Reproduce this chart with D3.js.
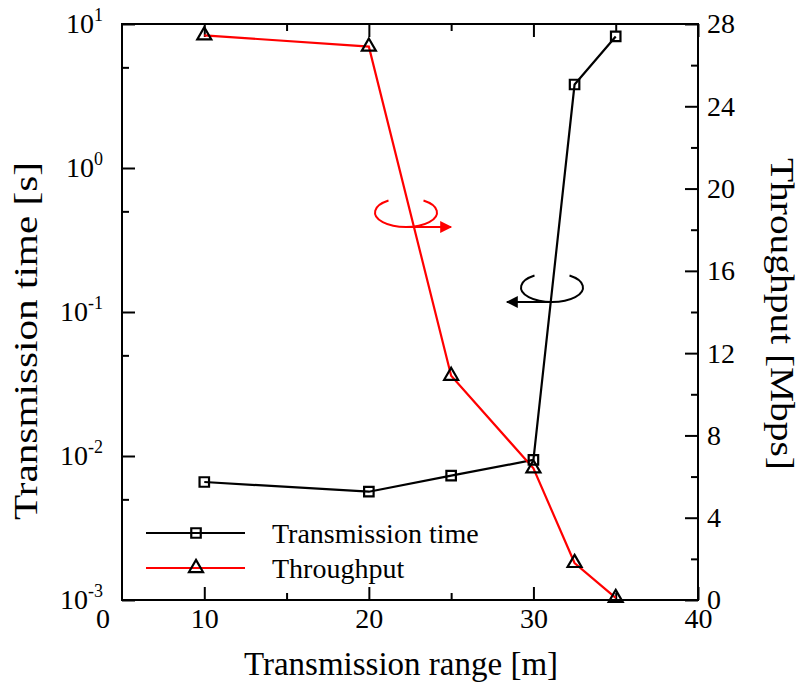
<!DOCTYPE html>
<html>
<head>
<meta charset="utf-8">
<script src="https://cdn.jsdelivr.net/npm/d3@7.9.0/dist/d3.min.js"></script>
<style>
  body { margin: 0; background: #fff; }
  svg, svg text { font-family: "Liberation Serif", "Times New Roman", Times, serif; fill: #000; }
</style>
</head>
<body>
<div id="chart"></div>
<script>
// data
const ranges = [10, 20, 25, 30, 32.5, 35];
const transTime = [0.0066, 0.00565, 0.0073, 0.0094, 3.8, 8.2];
const throughput = [27.45, 26.9, 10.9, 6.4, 1.8, 0.1];

const xTicks = [10, 20, 30, 40];
const xMinor = [15, 25, 35];
const leftTicks = [1e-3, 1e-2, 1e-1, 1, 10];
const leftExp = ['-3', '-2', '-1', '0', '1'];
const leftMinor = [0.005, 0.05, 0.5, 5];
const rightTicks = [0, 4, 8, 12, 16, 20, 24, 28];
const rightMinor = [2, 6, 10, 14, 18, 22, 26];

const width = 799;
const height = 688;
const area = { left: 122, right: 698, top: 24, bottom: 600 };
const serif = '"Liberation Serif", "Times New Roman", Times, serif';

const svg = d3.select('#chart')
  .append('svg')
  .attr('width', width)
  .attr('height', height)
  .attr('font-family', serif);

const x = d3.scaleLinear().domain([5, 40]).range([area.left, area.right]);
const yL = d3.scaleLog().domain([1e-3, 10]).range([area.bottom, area.top]);
const yR = d3.scaleLinear().domain([0, 28]).range([area.bottom, area.top]);

function styleAxis(g) {
  g.attr('font-family', serif).attr('font-size', 28);
  g.select('.domain').remove();
  g.selectAll('line').attr('stroke', '#000').attr('stroke-width', 2);
  g.selectAll('text').attr('fill', '#000');
}

// bottom axis
svg.append('g')
  .attr('transform', `translate(0,${area.bottom})`)
  .call(d3.axisBottom(x).tickValues(xTicks).tickSizeInner(-13).tickSizeOuter(0).tickPadding(8))
  .call(styleAxis);
svg.append('g')
  .attr('transform', `translate(0,${area.bottom})`)
  .call(d3.axisBottom(x).tickValues(xMinor).tickSizeInner(-7).tickSizeOuter(0).tickFormat(''))
  .call(styleAxis);
// stray "0" label at the lower left corner
svg.append('text')
  .attr('x', x(5) - 19)
  .attr('y', area.bottom + 8)
  .attr('dy', '0.71em')
  .attr('text-anchor', 'middle')
  .attr('font-size', 28)
  .text('0');

// top axis (ticks only)
svg.append('g')
  .attr('transform', `translate(0,${area.top})`)
  .call(d3.axisTop(x).tickValues(xTicks).tickSizeInner(-13).tickSizeOuter(0).tickFormat(''))
  .call(styleAxis);
svg.append('g')
  .attr('transform', `translate(0,${area.top})`)
  .call(d3.axisTop(x).tickValues(xMinor).tickSizeInner(-7).tickSizeOuter(0).tickFormat(''))
  .call(styleAxis);

// left log axis
const leftAxis = svg.append('g')
  .attr('transform', `translate(${area.left},0)`)
  .call(d3.axisLeft(yL).tickValues(leftTicks).tickSizeInner(-13).tickSizeOuter(0).tickPadding(10).tickFormat(''))
  .call(styleAxis);
leftAxis.selectAll('.tick text')
  .attr('x', -19)
  .attr('dy', '0.32em')
  .each(function (d, i) {
    const t = d3.select(this);
    t.text('10');
    t.append('tspan').attr('dy', -12).attr('font-size', 18).text(leftExp[i]);
  });
svg.append('g')
  .attr('transform', `translate(${area.left},0)`)
  .call(d3.axisLeft(yL).tickValues(leftMinor).tickSizeInner(-7).tickSizeOuter(0).tickFormat(''))
  .call(styleAxis);

// right axis
svg.append('g')
  .attr('transform', `translate(${area.right},0)`)
  .call(d3.axisRight(yR).tickValues(rightTicks).tickSizeInner(-13).tickSizeOuter(0).tickPadding(9))
  .call(styleAxis);
svg.append('g')
  .attr('transform', `translate(${area.right},0)`)
  .call(d3.axisRight(yR).tickValues(rightMinor).tickSizeInner(-7).tickSizeOuter(0).tickFormat(''))
  .call(styleAxis);

// frame
svg.append('rect')
  .attr('x', area.left).attr('y', area.top)
  .attr('width', area.right - area.left).attr('height', area.bottom - area.top)
  .attr('fill', 'none').attr('stroke', '#000').attr('stroke-width', 2);

// axis titles
svg.append('text')
  .attr('x', 401).attr('y', 675)
  .attr('text-anchor', 'middle')
  .attr('font-size', 33)
  .text('Transmission range [m]');
svg.append('text')
  .attr('transform', 'translate(37,341) rotate(-90)')
  .attr('text-anchor', 'middle')
  .attr('font-size', 33)
  .attr('textLength', 358)
  .attr('lengthAdjust', 'spacingAndGlyphs')
  .text('Transmission time [s]');
svg.append('text')
  .attr('transform', 'translate(771,314) rotate(90)')
  .attr('text-anchor', 'middle')
  .attr('font-size', 33)
  .attr('textLength', 312)
  .attr('lengthAdjust', 'spacingAndGlyphs')
  .text('Throughput [Mbps]');

// series
const timeData = ranges.map((r, i) => ({ r, v: transTime[i] }));
const thrData = ranges.map((r, i) => ({ r, v: throughput[i] }));

const square = d3.symbol().type(d3.symbolSquare).size(90);
const triangle = d3.symbol().type(d3.symbolTriangle).size(85);

svg.append('path')
  .datum(timeData)
  .attr('fill', 'none')
  .attr('stroke', '#000')
  .attr('stroke-width', 2.2)
  .attr('d', d3.line().x(d => x(d.r)).y(d => yL(d.v)));

svg.append('path')
  .datum(thrData)
  .attr('fill', 'none')
  .attr('stroke', '#ff0000')
  .attr('stroke-width', 2.2)
  .attr('d', d3.line().x(d => x(d.r)).y(d => yR(d.v)));

svg.append('g').selectAll('path')
  .data(timeData)
  .join('path')
  .attr('transform', d => `translate(${x(d.r)},${yL(d.v)})`)
  .attr('d', square)
  .attr('fill', 'none')
  .attr('stroke', '#000')
  .attr('stroke-width', 2.2);

svg.append('g').selectAll('path')
  .data(thrData)
  .join('path')
  .attr('transform', d => `translate(${x(d.r)},${yR(d.v)})`)
  .attr('d', triangle)
  .attr('fill', 'none')
  .attr('stroke', '#000')
  .attr('stroke-width', 2.2);

// rotating arrows pointing to each axis
svg.append('defs').selectAll('marker')
  .data([['head-red', '#ff0000'], ['head-black', '#000']])
  .join('marker')
  .attr('id', d => d[0])
  .attr('viewBox', '0 0 10 10')
  .attr('refX', 9).attr('refY', 5)
  .attr('markerWidth', 7).attr('markerHeight', 6)
  .attr('markerUnits', 'strokeWidth')
  .attr('orient', 'auto')
  .append('path')
  .attr('d', 'M0,0 L10,5 L0,10 Z')
  .attr('fill', d => d[1]);

function loopArrow(cx, cy, color, dir, head) {
  const rx = 31, ry = 14.5, gap = 17.5;
  const gy = cy - ry * Math.sqrt(1 - (gap / rx) ** 2);
  svg.append('path')
    .attr('d', `M${cx - gap},${gy} A${rx},${ry} 0 1 0 ${cx + gap},${gy}`)
    .attr('fill', 'none')
    .attr('stroke', color)
    .attr('stroke-width', 2);
  svg.append('line')
    .attr('x1', cx).attr('y1', cy + ry)
    .attr('x2', cx + dir * 45).attr('y2', cy + ry)
    .attr('stroke', color)
    .attr('stroke-width', 2)
    .attr('marker-end', `url(#${head})`);
}
loopArrow(406, 212.5, '#ff0000', 1, 'head-red');
loopArrow(552, 287.5, '#000', -1, 'head-black');

// legend
const legend = svg.append('g');
const legendItems = [
  { label: 'Transmission time', color: '#000', sym: square, y: 533 },
  { label: 'Throughput', color: '#ff0000', sym: triangle, y: 568 },
];
legendItems.forEach(item => {
  legend.append('line')
    .attr('x1', 146).attr('x2', 245)
    .attr('y1', item.y).attr('y2', item.y)
    .attr('stroke', item.color).attr('stroke-width', 2.2);
  legend.append('path')
    .attr('transform', `translate(196,${item.y})`)
    .attr('d', item.sym)
    .attr('fill', 'none').attr('stroke', '#000').attr('stroke-width', 2.2);
  legend.append('text')
    .attr('x', 272).attr('y', item.y + 10)
    .attr('font-size', 28)
    .text(item.label);
});
</script>
</body>
</html>
